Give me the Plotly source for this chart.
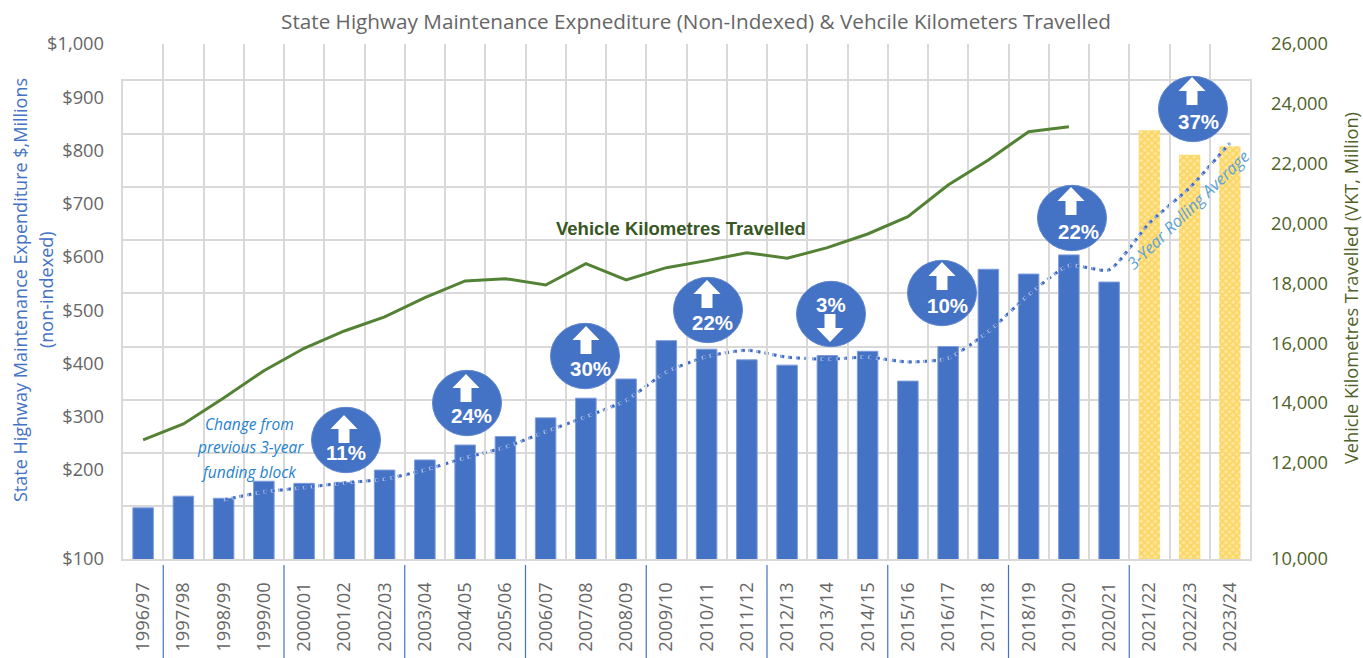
import plotly.graph_objects as go

categories = ["1996/97","1997/98","1998/99","1999/00","2000/01","2001/02","2002/03","2003/04","2004/05","2005/06",
              "2006/07","2007/08","2008/09","2009/10","2010/11","2011/12","2012/13","2013/14","2014/15","2015/16",
              "2016/17","2017/18","2018/19","2019/20","2020/21","2021/22","2022/23","2023/24"]
expenditure = [129,151,147,179,175,177,200,219,247,263,298,335,371,443,427,407,397,415,423,367,432,577,568,604,553]
forecast = [838,792,808]
rolling_average = [144,159,167,176,183,200,223,243,272,300,331,384,413,425,412,408,412,403,410,460,529,584,576,664,730,814]
vkt = [12768,13303,14172,15084,15832,16410,16878,17523,18081,18158,17947,18659,18114,18526,18760,19027,18839,19194,19651,20229,21288,22124,23069,23237]

left_tick_values = [33,200,300,400,500,600,700,800,900,1000]
left_tick_labels = ["$100","$200","$300","$400","$500","$600","$700","$800","$900","$1,000"]
right_tick_values = [8800,12000,14000,16000,18000,20000,22000,24000,26000]
right_tick_labels = ["10,000","12,000","14,000","16,000","18,000","20,000","22,000","24,000","26,000"]
block_boundaries = [0.5,3.5,6.5,9.5,12.5,15.5,18.5,21.5,24.5]

BLUE = "#4472C4"; GRID = "#D9D9D9"; GREY = "#666666"; OLIVE = "#4F6228"
FONT = "Open Sans"
L, R, T, B, GT = 123, 1250, 44, 559, 81
px = lambda x: (x - L) / (R - L)
py = lambda y: (B - y) / (B - T)

fig = go.Figure()
# carrier for the gridline axis
fig.add_trace(go.Scatter(x=[categories[0]], y=[None], yaxis="y", showlegend=False, hoverinfo="skip"))
fig.add_trace(go.Bar(x=categories[:25], y=expenditure, yaxis="y2", width=0.51, name="Expenditure",
                     marker=dict(color=BLUE, line=dict(color="#7F9DDB", width=1))))
fig.add_trace(go.Bar(x=categories[25:], y=forecast, yaxis="y2", width=0.53, name="Forecast",
                     marker=dict(color="#FFE38A", line=dict(width=0),
                                 pattern=dict(shape="x", size=5, solidity=0.55, fgcolor="#FBD45F", bgcolor="#FFE699", fillmode="replace"))))
fig.add_trace(go.Scatter(x=categories[2:], y=rolling_average, yaxis="y2", mode="lines", name="Halo",
                         line=dict(color="#B4C6EC", width=3.4, shape="spline", smoothing=0.6, dash="4px,4px")))
fig.add_trace(go.Scatter(x=categories[2:], y=rolling_average, yaxis="y2", mode="lines", name="3-Year Rolling Average",
                         line=dict(color="#3F6CC0", width=2.8, shape="spline", smoothing=0.6, dash="0.5px,1px,2.5px,4px")))
fig.add_trace(go.Scatter(x=categories[:24], y=vkt, yaxis="y3", mode="lines", name="Vehicle Kilometres Travelled",
                         line=dict(color="#548235", width=3)))

shapes = []
for b in block_boundaries:
    shapes.append(dict(type="line", xref="x", yref="paper", x0=b, x1=b, y0=py(565), y1=py(658),
                       line=dict(color=BLUE, width=1.2)))

# (circle x, circle y, arrow x, arrow tip y, direction, text x, text y, text)
badges = [
    (346, 440, 344, 415, 1, 346, 452, "11%"),
    (467, 403, 466, 374, 1, 471, 415, "24%"),
    (585, 356, 586, 326, 1, 590, 368, "30%"),
    (708, 310, 707, 280, 1, 712, 322, "22%"),
    (831, 314, 830, 342, -1, 831, 304, "3%"),
    (942, 293, 942, 262, 1, 947, 305, "10%"),
    (1072, 218, 1071, 187, 1, 1078, 231, "22%"),
    (1193, 109, 1192, 77, 1, 1198, 122, "37%"),
]
annotations = []
for cx, cy, ax, tip, d, tx, ty, label in badges:
    shapes.append(dict(type="circle", xref="paper", yref="paper", layer="above",
                       x0=px(cx-34.5), x1=px(cx+34.5), y0=py(cy+32.7), y1=py(cy-32.7),
                       fillcolor=BLUE, line=dict(color="#5F86CE", width=1)))
    pts = [(ax, tip), (ax+13.5, tip+d*14), (ax+5.5, tip+d*14), (ax+5.5, tip+d*28), (ax-5.5, tip+d*28), (ax-5.5, tip+d*14), (ax-13.5, tip+d*14)]
    path = "M " + " L ".join(f"{px(a):.5f} {py(b):.5f}" for a, b in pts) + " Z"
    shapes.append(dict(type="path", xref="paper", yref="paper", layer="above", path=path,
                       fillcolor="white", line=dict(width=0)))
    annotations.append(dict(text=f"<b>{label}</b>", xref="paper", yref="paper", x=px(tx), y=py(ty), showarrow=False,
                            xanchor="center", yanchor="middle",
                            font=dict(family="Liberation Sans", size=20.5, color="white")))

def note(text, x, y, size, color, family=FONT, angle=0):
    annotations.append(dict(text=text, xref="paper", yref="paper", x=px(x), y=py(y), showarrow=False,
                            xanchor="center", yanchor="middle",
                            textangle=angle, font=dict(family=family, size=size, color=color)))

note("<i>Change from</i>", 249, 424, 15.5, "#1F82CC")
note("<i>previous 3-year</i>", 250, 447, 15.5, "#1F82CC")
note("<i>funding block</i>", 249, 472, 15.5, "#1F82CC")
note("<b>Vehicle Kilometres Travelled</b>", 681, 228, 18.5, "#375623", family="Liberation Sans")
note("<i>3-Year Rolling Average</i>", 1188, 210, 16.5, "#5BA3D9", angle=-44)
note("State Highway Maintenance Expenditure $,Millions", 20, 290, 18, BLUE, angle=-90)
note("(non-indexed)", 46, 290, 18, BLUE, angle=-90)
note("Vehicle Kilometres Travelled (VKT, Million)", 1351, 288, 18.2, OLIVE, angle=-90)

tick_font = dict(family=FONT, size=18.3, color=GREY)
fig.update_layout(
    width=1363, height=658, autosize=False, showlegend=False, barmode="overlay",
    paper_bgcolor="white", plot_bgcolor="rgba(0,0,0,0)",
    margin=dict(l=L, r=1363-R, t=T, b=658-B, pad=0, autoexpand=False),
    title=dict(text="State Highway Maintenance Expnediture (Non-Indexed) & Vehcile Kilometers Travelled",
               x=696/1363, xref="container", xanchor="center", y=1-22/658, yref="container", yanchor="middle",
               font=dict(family=FONT, size=20.7, color=GREY)),
    xaxis=dict(type="category", categoryorder="array", categoryarray=categories, range=[-0.5, 27.5], anchor="y", automargin=False,
               tickson="boundaries", showgrid=True, gridcolor=GRID, gridwidth=2, showline=True, linecolor=GRID, linewidth=2,
               mirror=True, ticks="", tickangle=-90, tickfont=tick_font, ticklabelstandoff=14),
    yaxis=dict(domain=[0, (B-GT)/(B-T)], range=[33, 930.5], tick0=33, dtick=99.72, showgrid=True, gridcolor=GRID, gridwidth=2, automargin=False,
               showticklabels=False, ticks="", showline=True, linecolor=GRID, linewidth=2, mirror=True, zeroline=False, anchor="x"),
    yaxis2=dict(domain=[0, 1], range=[33, 1000], tickmode="array", tickvals=left_tick_values, ticktext=left_tick_labels, automargin=False,
                showgrid=False, zeroline=False, ticks="", tickfont=tick_font, ticklabelstandoff=18, anchor="x", side="left"),
    yaxis3=dict(domain=[0, 1], range=[8790, 26000], tickmode="array", tickvals=right_tick_values, ticktext=right_tick_labels, automargin=False,
                showgrid=False, zeroline=False, ticks="", tickfont=dict(family=FONT, size=18.3, color=OLIVE), ticklabelstandoff=20,
                anchor="x", side="right"),
    shapes=shapes, annotations=annotations,
)
fig.write_html("out.html", config=dict(displayModeBar=False),
               post_script="document.body.style.margin='0';")
